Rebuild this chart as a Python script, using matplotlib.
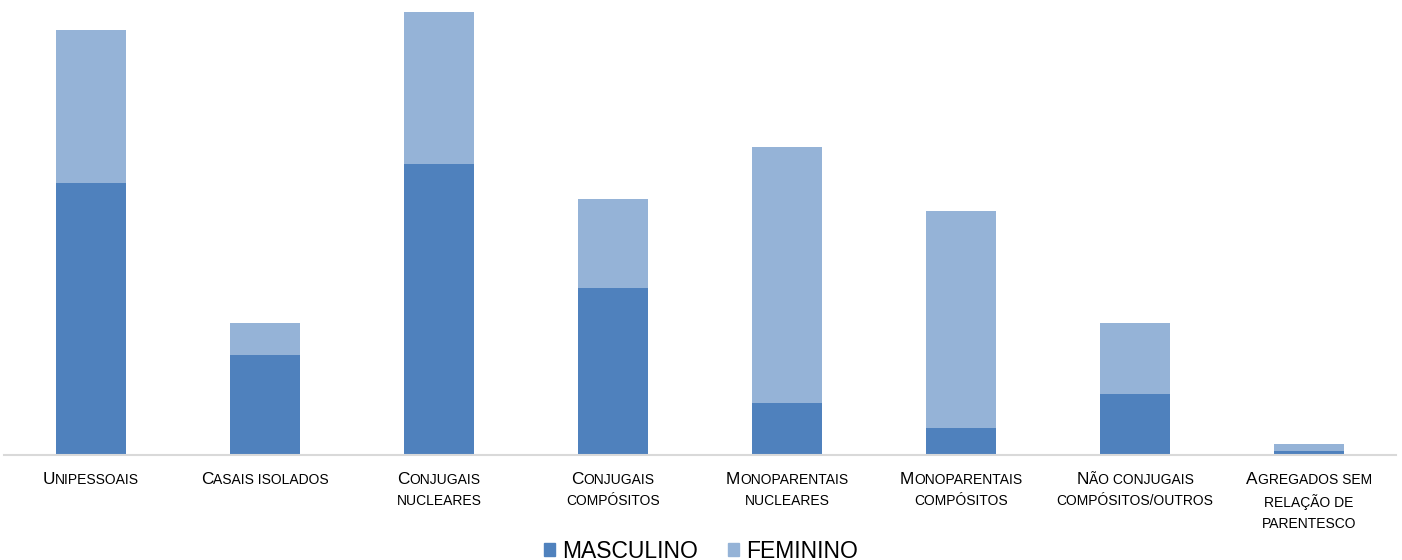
import matplotlib
matplotlib.use("Agg")
from matplotlib import pyplot as plt
from matplotlib.patches import Patch
from matplotlib.offsetbox import TextArea, HPacker, VPacker, AnnotationBbox

plt.rcParams['font.family'] = ['Liberation Sans', 'DejaVu Sans']

# each label: list of lines, first line split into (capital, rest)
labels = [
    [("U", "NIPESSOAIS")],
    [("C", "ASAIS ISOLADOS")],
    [("C", "ONJUGAIS"), ("", "NUCLEARES")],
    [("C", "ONJUGAIS"), ("", "COMPÓSITOS")],
    [("M", "ONOPARENTAIS"), ("", "NUCLEARES")],
    [("M", "ONOPARENTAIS"), ("", "COMPÓSITOS")],
    [("N", "ÃO CONJUGAIS"), ("", "COMPÓSITOS/OUTROS")],
    [("A", "GREGADOS SEM"), ("", "RELAÇÃO DE"), ("", "PARENTESCO")],
]
masculino = [272, 100, 291, 167, 52, 27, 61, 4]
feminino = [153, 32, 152, 89, 256, 217, 71, 7]

blue = "#4F81BD"
light = "#95B3D7"

fig = plt.figure(figsize=(14.02, 5.6), dpi=100)
ax = fig.add_axes([4/1402, 105/560, 1392/1402, 445/560])

x = list(range(len(labels)))
ax.bar(x, masculino, width=0.4, color=blue, label="MASCULINO")
ax.bar(x, feminino, width=0.4, bottom=masculino, color=light, label="FEMININO")

ax.set_xlim(-0.5, len(labels) - 0.5)
ax.set_ylim(0, 445)
ax.set_xticks([])
ax.set_yticks([])
for side in ["top", "left", "right"]:
    ax.spines[side].set_visible(False)
ax.spines["bottom"].set_color("#D9D9D9")
ax.spines["bottom"].set_linewidth(1.5)

# small caps: first letter at full size, the rest smaller
big, small = 12.4, 10
for xi, lines in zip(x, labels):
    rows = []
    for cap, rest in lines:
        parts = []
        if cap:
            parts.append(TextArea(cap, textprops=dict(fontsize=big, color="black")))
        parts.append(TextArea(rest, textprops=dict(fontsize=small, color="black")))
        rows.append(HPacker(children=parts, align="baseline", pad=0, sep=0))
    box = VPacker(children=rows, align="center", pad=0, sep=5)
    ab = AnnotationBbox(box, (xi, 0), xycoords=("data", "axes fraction"),
                        xybox=(0, -12), boxcoords="offset points",
                        box_alignment=(0.5, 1), frameon=False, pad=0)
    ax.add_artist(ab)

handles = [Patch(color=blue, label="MASCULINO"), Patch(color=light, label="FEMININO")]
fig.legend(handles=handles, loc="lower center", bbox_to_anchor=(0.5, -0.025),
           ncol=2, frameon=False, fontsize=16.5, handlelength=0.48, handleheight=0.5,
           handletextpad=0.3, columnspacing=1.3, borderpad=0)

fig.savefig("out.png", dpi=100)
